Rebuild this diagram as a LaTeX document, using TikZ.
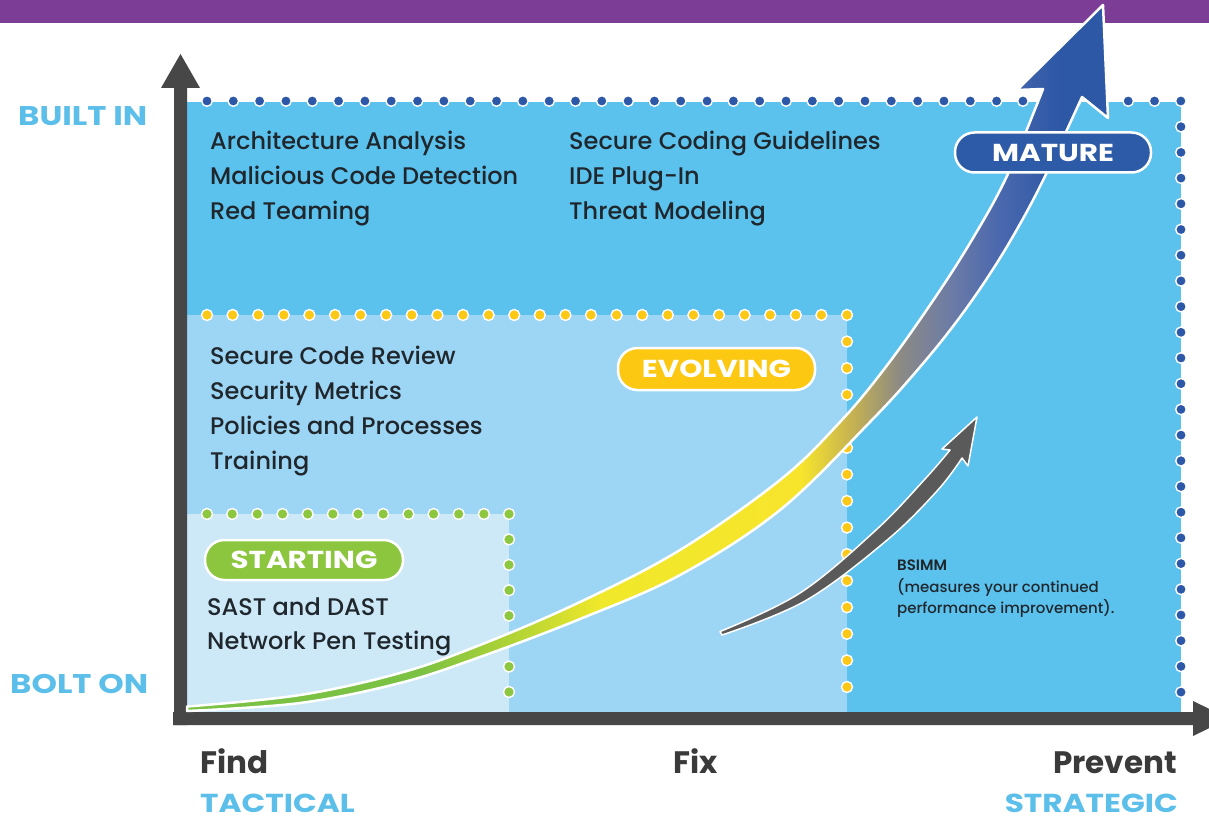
\documentclass[tikz,border=0pt]{standalone}
\usepackage{fontspec}
\setmainfont{Poppins}
\newfontfamily\medium{Poppins Medium}
\newfontfamily\semibold{Poppins SemiBold}
\newfontfamily\widecaps{Poppins}[FakeStretch=1.2]
\usetikzlibrary{calc}

\definecolor{purplebar}{HTML}{7B3D96}
\definecolor{axisgray}{HTML}{474747}
\definecolor{labelblue}{HTML}{5BBFEA}
\definecolor{headgray}{HTML}{3A3A3A}
\definecolor{itemtext}{HTML}{1F272D}
\definecolor{maturefill}{HTML}{5BC2EE}
\definecolor{evolvingfill}{HTML}{9DD5F4}
\definecolor{startingfill}{HTML}{CDE9F8}
\definecolor{dotblue}{HTML}{2D58A7}
\definecolor{dotyellow}{HTML}{FBC815}
\definecolor{dotgreen}{HTML}{8DC63F}
\definecolor{pillblue}{HTML}{2E5BA8}
\definecolor{pillyellow}{HTML}{FCC812}
\definecolor{pillgreen}{HTML}{8CC63F}
\definecolor{smallarrow}{HTML}{5A5A5A}
% colours along the growth arrow
\definecolor{gA}{HTML}{7BC143}
\definecolor{gB}{HTML}{B5D534}
\definecolor{gC}{HTML}{F0E82A}
\definecolor{gD}{HTML}{F7E52C}
\definecolor{gE}{HTML}{C8B450}
\definecolor{gF}{HTML}{8C8A84}
\definecolor{gG}{HTML}{6C7CA6}
\definecolor{gH}{HTML}{4A68AE}
\definecolor{gK}{HTML}{2D58A5}

\pgfdeclarehorizontalshading{growth}{100bp}{
  color(0bp)=(gA); color(37.6bp)=(gA); color(43.1bp)=(gB);
  color(47.4bp)=(gC); color(58.3bp)=(gD); color(61bp)=(gE);
  color(63.7bp)=(gF); color(66.4bp)=(gG); color(69.1bp)=(gH);
  color(72.4bp)=(gK); color(100bp)=(gK)}

\begin{document}
\begin{tikzpicture}[x=1pt,y=-1pt,
  bluedot/.style={fill=dotblue,draw=white,line width=1.4pt},
  yellowdot/.style={fill=dotyellow,draw=white,line width=1.4pt},
  greendot/.style={fill=dotgreen,draw=white,line width=1.4pt},
  item/.style={font=\medium\fontsize{24}{28}\selectfont,text=itemtext,anchor=base west,inner sep=0pt},
  note/.style={font=\medium\fontsize{15}{18}\selectfont,text=itemtext,anchor=base west,inner sep=0pt},
  levellabel/.style={font=\widecaps\bfseries\fontsize{27}{32}\selectfont,text=labelblue,inner sep=0pt,text depth=0pt},
  axislabel/.style={font=\bfseries\fontsize{31}{36}\selectfont,text=headgray,inner sep=0pt,text depth=0pt},
  scopelabel/.style={font=\widecaps\bfseries\fontsize{26}{30}\selectfont,text=labelblue,inner sep=0pt,text depth=0pt},
  pill/.style={draw=white,line width=2.5pt,rounded corners=19.5pt,minimum width=196pt,
    minimum height=40pt,text=white,font=\widecaps\bfseries\fontsize{24.5}{28}\selectfont,inner sep=0pt}]

\useasboundingbox (0,0) rectangle (1209,821);
\clip (0,0) rectangle (1209,821);
\fill[white] (0,0) rectangle (1209,821);
\fill[purplebar] (0,0) rectangle (1209,23);

% maturity zones
\fill[maturefill] (187,102) rectangle (1181,712);
\fill[evolvingfill] (187,315) rectangle (847,712);
\fill[startingfill] (187,514) rectangle (509,712);

% dotted borders
\foreach \i in {0,...,37} \path[bluedot] (207+26.32*\i,101) circle (5.3);
\foreach \i in {1,...,23} \path[bluedot] (1181,101+25.7*\i) circle (5.3);
\foreach \i in {0,...,25} \path[yellowdot] (207+25.6*\i,315) circle (5.5);
\foreach \i in {1,...,14} \path[yellowdot] (847,315+26.57*\i) circle (5.5);
\foreach \i in {0,...,12} \path[greendot] (207+25.17*\i,514) circle (5.5);
\foreach \i in {1,...,7} \path[greendot] (509,514+25.43*\i) circle (5.5);

% axes
\fill[axisgray] (174,725) -- (174,88) -- (161,88) -- (180.5,54) -- (200,88)
  -- (187,88) -- (187,725) -- cycle;
\fill[axisgray] (173,712) -- (1193,712) -- (1193,701) -- (1229,718.5)
  -- (1193,736) -- (1193,725) -- (173,725) -- cycle;

% growth arrow
\shadedraw[shading=growth,draw=white,line width=2.5pt,line join=round]
  plot[smooth,tension=0.6] coordinates {(187,706.5) (300,695) (400,673) (480,645)
    (580,602) (680,550) (780,480) (840,422) (885,368) (930,305) (970,243)
    (1007,176) (1043,89)}
  -- (1017,90) -- (1103,5) -- (1108,118) -- (1082,97)
  -- plot[smooth,tension=0.6] coordinates {(1082,97) (1050,166) (1025,215)
    (995,266) (960,317) (920,367) (870,422) (780,510) (680,575) (580,619)
    (480,657) (400,683) (300,703) (187,711)}
  -- cycle;

% BSIMM arrow
\path[fill=smallarrow,draw=white,line width=1.5pt,line join=round]
  plot[smooth,tension=0.6] coordinates {(720,631.5) (800,593) (876,530) (925,479) (950,450)}
  -- (942,449) -- (977,417) -- (968,466) -- (962,458)
  -- plot[smooth,tension=0.6] coordinates {(962,458) (937,491) (886,541) (805,601) (722,635)}
  -- cycle;

% level badges
\node[pill,fill=pillblue] (mature) at (1053,152.5) {MATURE};
\node[pill,fill=pillyellow,minimum width=197pt,minimum height=42pt] (evolving) at (716.5,369) {EVOLVING};
\node[pill,fill=pillgreen,minimum width=198pt] (starting) at (304,560) {STARTING};

% practices
\node[item] (aa) at (210,149.5) {Architecture Analysis};
\node[item] (mcd) at (210,184.5) {Malicious Code Detection};
\node[item] (rt) at (210,219.5) {Red Teaming};
\node[item] (scg) at (569,149.5) {Secure Coding Guidelines};
\node[item] (ide) at (569,184.5) {IDE Plug-In};
\node[item] (tm) at (569,219.5) {Threat Modeling};
\node[item] (scr) at (210,364.5) {Secure Code Review};
\node[item] (sm) at (210,399.5) {Security Metrics};
\node[item] (pp) at (210,434.5) {Policies and Processes};
\node[item] (tr) at (210,469.5) {Training};
\node[item] (sd) at (207,615) {SAST and DAST};
\node[item] (npt) at (207,649.5) {Network Pen Testing};

\node[note] (bsimm) at (897,570) {\semibold BSIMM};
\node[note] (bs2) at (897,592) {(measures your continued};
\node[note] (bs3) at (897,613) {performance improvement).};

% axis labels
\node[levellabel,anchor=base west] (builtin) at (18,126) {BUILT IN};
\node[levellabel,anchor=base west] (bolton) at (10,693) {BOLT ON};
\node[axislabel,anchor=base west] (find) at (200,773) {Find};
\node[axislabel,anchor=base] (fix) at (696,773) {Fix};
\node[axislabel,anchor=base east] (prevent) at (1177,773) {Prevent};
\node[scopelabel,anchor=base west] (tactical) at (200,812.5) {TACTICAL};
\node[scopelabel,anchor=base east] (strategic) at (1178,812.5) {STRATEGIC};
\end{tikzpicture}
\end{document}
